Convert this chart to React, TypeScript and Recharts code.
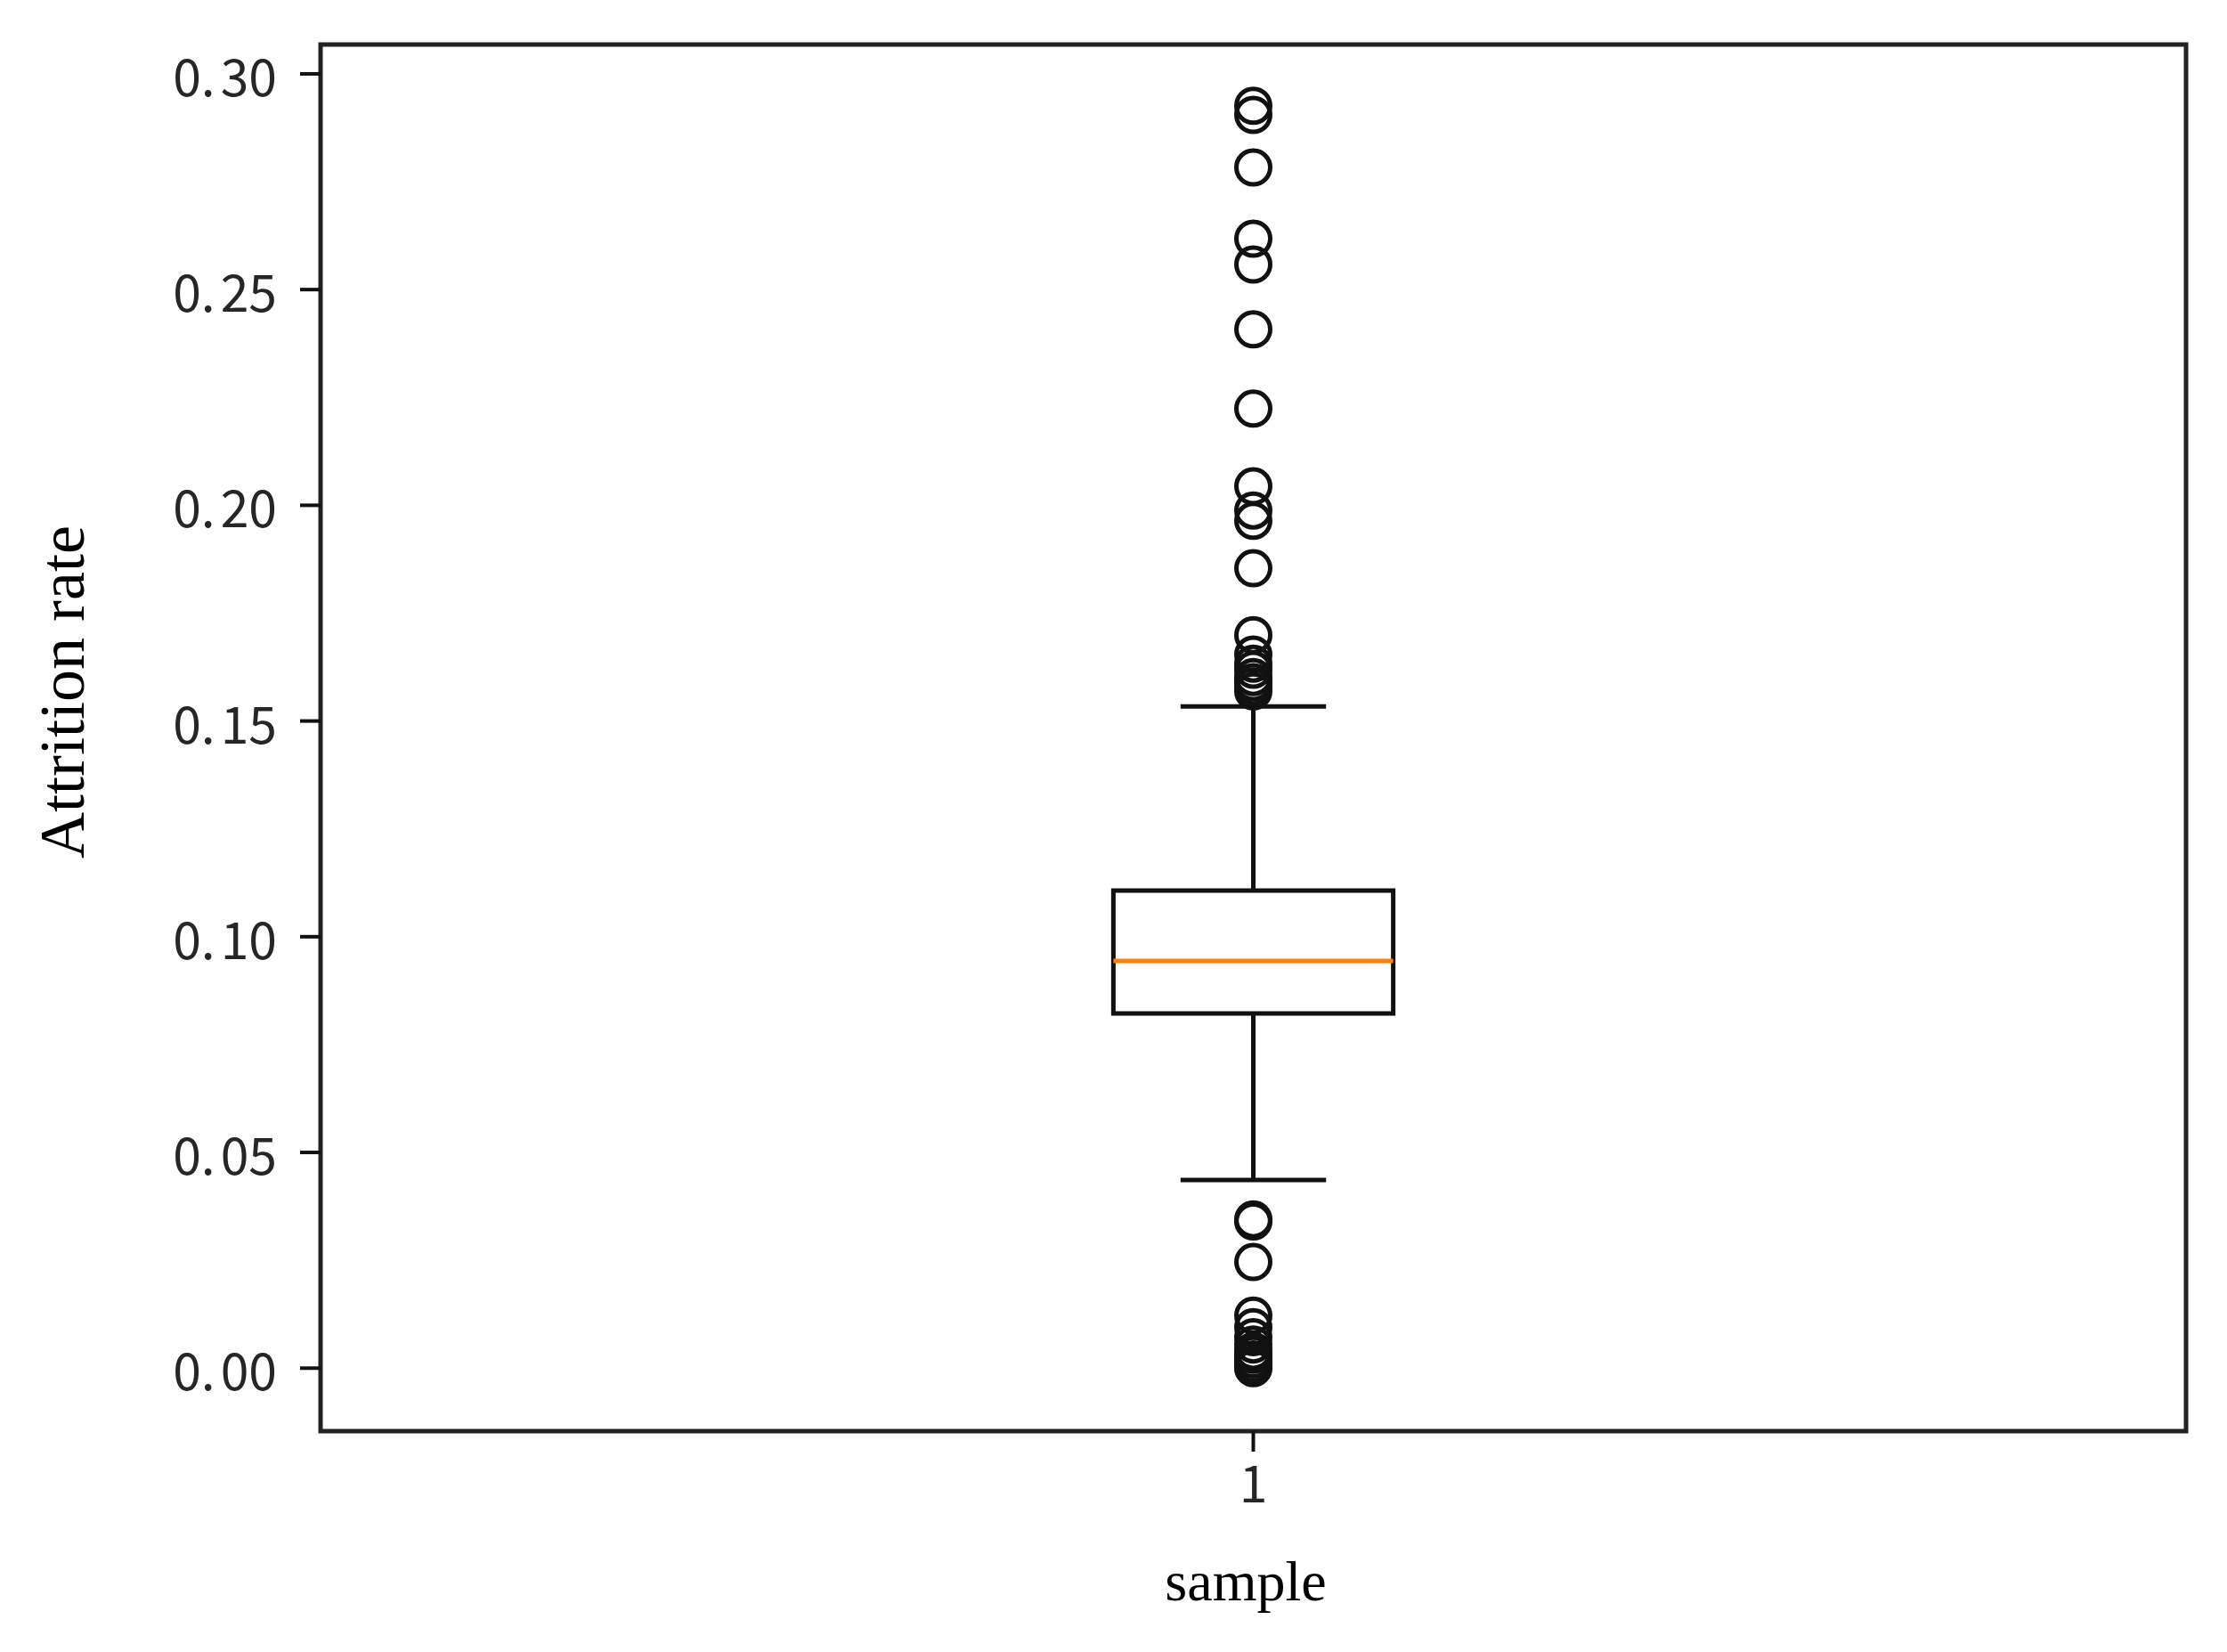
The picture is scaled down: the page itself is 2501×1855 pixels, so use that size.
import {
  ComposedChart,
  Scatter,
  XAxis,
  YAxis,
  ReferenceArea,
  ReferenceLine,
  Label,
} from 'recharts'

// Box statistics
const category = 1
const q1 = 0.0822
const median = 0.0944
const q3 = 0.1107
const whiskerLow = 0.0436
const whiskerHigh = 0.1534

// Outliers (fliers) above and below the whiskers
const upperOutliers = [
  0.2926, 0.2905, 0.2783, 0.2618, 0.2558, 0.2408, 0.2224, 0.2044, 0.1988,
  0.1964, 0.1854, 0.1699, 0.1654, 0.1633, 0.1619, 0.1602, 0.159, 0.158,
  0.1569,
]
const lowerOutliers = [
  0.0345, 0.034, 0.0246, 0.0122, 0.0095, 0.0072, 0.0055, 0.004, 0.0031,
  0.002, 0.001, 0.0003, 0,
]

const yTicks = [0, 0.05, 0.1, 0.15, 0.2, 0.25, 0.3]
const xTicks = [1]

const Y_DOMAIN: [number, number] = [-0.0146, 0.3068]
const X_DOMAIN: [number, number] = [0.5, 1.5]
const BOX_HALF = 0.075
const CAP_HALF = 0.039

const TICK_FONT = '"Noto Sans CJK JP", "Noto Sans", sans-serif'
const LABEL_FONT = '"Liberation Serif", "DejaVu Serif", serif'
const INK = '#111'
const LW = 5

const fliers = [...upperOutliers, ...lowerOutliers].map((v) => ({
  x: category,
  y: v,
}))

function YTick(props: any) {
  const { x, y, payload } = props
  const s = Number(payload.value).toFixed(2)
  const [intPart, frac] = s.split('.')
  return (
    <text
      x={x}
      y={y}
      textAnchor="end"
      dominantBaseline="central"
      fontFamily={TICK_FONT}
      fontSize={57}
      fill="#262626"
    >
      <tspan>{intPart}.</tspan>
      <tspan dx={6}>{frac}</tspan>
    </text>
  )
}

function XTick(props: any) {
  const { x, y, payload } = props
  return (
    <text
      x={x}
      y={y}
      dy="0.72em"
      textAnchor="middle"
      fontFamily={TICK_FONT}
      fontSize={57}
      fill="#262626"
    >
      {payload.value}
    </text>
  )
}

function Flier(props: any) {
  const { cx, cy } = props
  return <circle cx={cx} cy={cy} r={19} fill="none" stroke={INK} strokeWidth={LW} />
}

export default function App() {
  return (
    <div style={{ width: 2501, height: 1855, background: '#fff' }}>
      <style>{'body{margin:0}'}</style>
      <ComposedChart
        width={2501}
        height={1855}
        margin={{ top: 50, right: 46, bottom: 148, left: 200 }}
      >
        <XAxis
          type="number"
          dataKey="x"
          domain={X_DOMAIN}
          ticks={xTicks}
          allowDataOverflow
          height={100}
          axisLine={false}
          tickLine={{ stroke: INK, strokeWidth: 4 }}
          tickSize={23}
          tickMargin={16}
          tick={<XTick />}
        >
          <Label
            content={() => (
              <text
                x={1399}
                y={1775}
                textAnchor="middle"
                dominantBaseline="central"
                fontFamily={LABEL_FONT}
                fontSize={64}
                fill="#000"
              >
                sample
              </text>
            )}
          />
        </XAxis>
        <YAxis
          type="number"
          dataKey="y"
          domain={Y_DOMAIN}
          ticks={yTicks}
          allowDataOverflow
          width={160}
          axisLine={false}
          tickLine={{ stroke: INK, strokeWidth: 4 }}
          tickSize={23}
          tickMargin={26}
          tick={<YTick />}
        >
          <Label
            content={() => (
              <text
                x={70}
                y={777}
                transform="rotate(-90 70 777)"
                textAnchor="middle"
                dominantBaseline="central"
                fontFamily={LABEL_FONT}
                fontSize={72}
                fill="#000"
              >
                Attrition rate
              </text>
            )}
          />
        </YAxis>

        {/* whiskers */}
        <ReferenceLine
          segment={[
            { x: category, y: q3 },
            { x: category, y: whiskerHigh },
          ]}
          stroke={INK}
          strokeWidth={LW}
        />
        <ReferenceLine
          segment={[
            { x: category, y: q1 },
            { x: category, y: whiskerLow },
          ]}
          stroke={INK}
          strokeWidth={LW}
        />
        <ReferenceLine
          segment={[
            { x: category - CAP_HALF, y: whiskerHigh },
            { x: category + CAP_HALF, y: whiskerHigh },
          ]}
          stroke={INK}
          strokeWidth={LW}
        />
        <ReferenceLine
          segment={[
            { x: category - CAP_HALF, y: whiskerLow },
            { x: category + CAP_HALF, y: whiskerLow },
          ]}
          stroke={INK}
          strokeWidth={LW}
        />

        {/* box */}
        <ReferenceArea
          x1={category - BOX_HALF}
          x2={category + BOX_HALF}
          y1={q1}
          y2={q3}
          fill="#fff"
          fillOpacity={1}
          stroke={INK}
          strokeWidth={LW}
          ifOverflow="visible"
        />
        <ReferenceLine
          segment={[
            { x: category - BOX_HALF, y: median },
            { x: category + BOX_HALF, y: median },
          ]}
          stroke="#ff7f0e"
          strokeWidth={LW}
        />

        {/* axes frame */}
        <ReferenceArea
          x1={X_DOMAIN[0]}
          x2={X_DOMAIN[1]}
          y1={Y_DOMAIN[0]}
          y2={Y_DOMAIN[1]}
          fill="none"
          stroke="#222"
          strokeWidth={LW}
          ifOverflow="visible"
        />

        <Scatter
          data={fliers}
          dataKey="y"
          shape={<Flier />}
          isAnimationActive={false}
        />
      </ComposedChart>
    </div>
  )
}
